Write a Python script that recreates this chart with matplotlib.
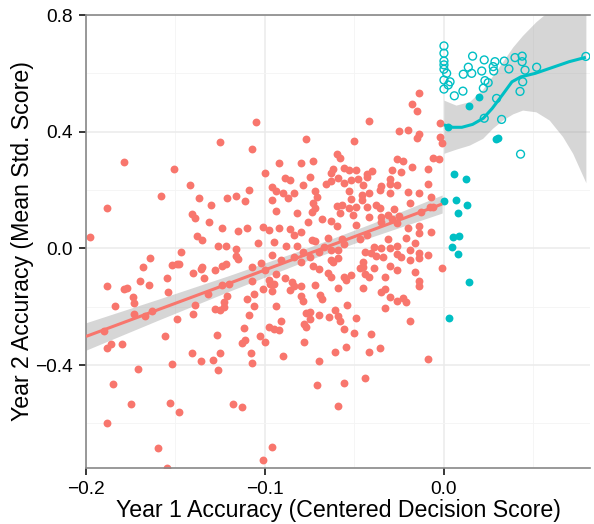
import numpy as np
import matplotlib
matplotlib.use('Agg')
import matplotlib.pyplot as plt
from matplotlib.ticker import MultipleLocator

# ── Data ────────────────────────────────────────────────────────────────────
# Below-threshold group (x < 0)
red_x = [
    -0.105, -0.125, -0.107, -0.179, -0.151, -0.100, -0.142, -0.109, -0.158, -0.137,
    -0.121, -0.116, -0.111, -0.188, -0.130, -0.141, -0.139, -0.131, -0.124, -0.115,
    -0.110, -0.101, -0.198, -0.138, -0.135, -0.104, -0.126, -0.122, -0.116, -0.116,
    -0.115, -0.147, -0.164, -0.168, -0.152, -0.149, -0.148, -0.135, -0.136, -0.128,
    -0.124, -0.122, -0.140, -0.134, -0.155, -0.170, -0.188, -0.165, -0.179, -0.177,
    -0.154, -0.174, -0.173, -0.184, -0.132, -0.124, -0.120, -0.121, -0.123, -0.139,
    -0.140, -0.128, -0.125, -0.123, -0.110, -0.106, -0.107, -0.106, -0.109, -0.107,
    -0.173, -0.167, -0.163, -0.149, -0.190, -0.112, -0.156, -0.127, -0.103, -0.111,
    -0.113, -0.186, -0.188, -0.180, -0.100, -0.141, -0.125, -0.108, -0.136, -0.129,
    -0.152, -0.107, -0.171, -0.126, -0.185, -0.175, -0.153, -0.148, -0.118, -0.113,
    -0.188, -0.160, -0.155, -0.101, -0.071, -0.056, -0.044, -0.059, -0.096, -0.014,
    -0.018, -0.015, -0.042, -0.002, -0.025, -0.020, -0.014, -0.015, -0.002, -0.001,
    -0.077, -0.050, -0.060, -0.058, -0.092, -0.080, -0.073, -0.026, -0.023, -0.018,
    -0.006, -0.003, -0.062, -0.063, -0.056, -0.053, -0.049, -0.040, -0.043, -0.029,
    -0.024, -0.009, -0.089, -0.086, -0.075, -0.059, -0.063, -0.066, -0.056, -0.052,
    -0.048, -0.043, -0.045, -0.030, -0.030, -0.026, -0.096, -0.094, -0.079, -0.090,
    -0.084, -0.087, -0.096, -0.072, -0.071, -0.053, -0.046, -0.042, -0.035, -0.036,
    -0.030, -0.020, -0.014, -0.009, -0.007, -0.019, -0.073, -0.052, -0.046, -0.072,
    -0.074, -0.094, -0.082, -0.060, -0.057, -0.053, -0.049, -0.043, -0.038, -0.036,
    -0.028, -0.058, -0.051, -0.042, -0.035, -0.031, -0.025, -0.013, -0.008, -0.006,
    -0.068, -0.063, -0.076, -0.092, -0.086, -0.060, -0.049, -0.035, -0.026, -0.014,
    -0.029, -0.098, -0.084, -0.080, -0.074, -0.072, -0.065, -0.057, -0.047, -0.043,
    -0.031, -0.021, -0.014, -0.007, -0.020, -0.095, -0.088, -0.082, -0.079, -0.070,
    -0.067, -0.063, -0.059, -0.056, -0.096, -0.091, -0.084, -0.080, -0.075, -0.063,
    -0.059, -0.062, -0.044, -0.041, -0.039, -0.035, -0.038, -0.030, -0.026, -0.034,
    -0.026, -0.024, -0.019, -0.019, -0.014, -0.014, -0.009, -0.016, -0.001, -0.102,
    -0.100, -0.094, -0.089, -0.085, -0.080, -0.073, -0.070, -0.065, -0.063, -0.056,
    -0.055, -0.052, -0.047, -0.045, -0.044, -0.042, -0.039, -0.045, -0.030, -0.026,
    -0.033, -0.016, -0.014, -0.014, -0.098, -0.097, -0.095, -0.101, -0.096, -0.086,
    -0.084, -0.072, -0.059, -0.045, -0.035, -0.033, -0.030, -0.026, -0.023, -0.021,
    -0.080, -0.079, -0.069, -0.068, -0.094, -0.054, -0.033, -0.077, -0.075, -0.070,
    -0.075, -0.064, -0.061, -0.059, -0.058, -0.049, -0.019, -0.091, -0.078, -0.077,
    -0.098, -0.095, -0.092, -0.056, -0.050, -0.041, -0.078, -0.061, -0.055, -0.042,
    -0.036, -0.090, -0.070, -0.009,
]
red_y = [
    0.434, 0.365, 0.341, 0.296, 0.272, 0.258, 0.217, 0.201, 0.179, 0.172,
    0.174, 0.179, 0.163, 0.139, 0.148, 0.118, 0.105, 0.090, 0.069, 0.059,
    0.069, 0.074, 0.039, 0.042, 0.028, 0.019, 0.008, 0.008, -0.002, -0.025,
    -0.037, -0.012, -0.032, -0.063, -0.057, -0.054, -0.054, -0.063, -0.071, -0.073,
    -0.062, -0.055, -0.086, -0.103, -0.101, -0.111, -0.128, -0.126, -0.139, -0.136,
    -0.150, -0.167, -0.188, -0.197, -0.158, -0.126, -0.123, -0.164, -0.185, -0.194,
    -0.224, -0.207, -0.213, -0.201, -0.173, -0.156, -0.111, -0.198, -0.228, -0.063,
    -0.224, -0.231, -0.215, -0.243, -0.284, -0.272, -0.300, -0.297, -0.300, -0.314,
    -0.326, -0.328, -0.342, -0.328, -0.321, -0.358, -0.358, -0.359, -0.386, -0.383,
    -0.396, -0.392, -0.414, -0.417, -0.465, -0.533, -0.529, -0.560, -0.533, -0.543,
    -0.598, -0.685, -0.752, -0.724, -0.469, -0.462, -0.444, -0.541, -0.681, 0.533,
    0.495, 0.471, 0.438, 0.431, 0.402, 0.407, 0.391, 0.379, 0.383, 0.362,
    0.375, 0.369, 0.324, 0.309, 0.294, 0.294, 0.300, 0.306, 0.300, 0.279,
    0.311, 0.306, 0.271, 0.259, 0.274, 0.270, 0.270, 0.265, 0.255, 0.270,
    0.263, 0.271, 0.242, 0.234, 0.245, 0.240, 0.230, 0.219, 0.224, 0.234,
    0.239, 0.243, 0.217, 0.239, 0.219, 0.217, 0.211, 0.197, 0.218, 0.191,
    0.191, 0.172, 0.166, 0.198, 0.175, 0.198, 0.183, 0.189, 0.214, 0.200,
    0.191, 0.194, 0.191, 0.219, 0.175, 0.156, 0.154, 0.168, 0.166, 0.138,
    0.126, 0.129, 0.122, 0.145, 0.148, 0.138, 0.143, 0.143, 0.147, 0.137,
    0.134, 0.122, 0.115, 0.106, 0.106, 0.115, 0.111, 0.126, 0.143, 0.141,
    0.099, 0.095, 0.091, 0.069, 0.065, 0.078, 0.081, 0.091, 0.086, 0.078,
    0.099, 0.063, 0.046, 0.055, 0.029, 0.025, 0.034, 0.032, 0.032, 0.046,
    0.032, 0.036, 0.051, 0.055, 0.069, 0.021, 0.009, 0.008, -0.014, -0.012,
    0.005, -0.006, -0.006, 0.014, -0.023, -0.040, -0.029, -0.046, -0.029, -0.040,
    -0.034, -0.048, -0.012, -0.017, 0.005, 0.000, -0.025, 0.000, 0.009, -0.029,
    -0.021, -0.029, -0.007, -0.040, -0.017, -0.034, -0.023, 0.017, -0.067, -0.051,
    -0.074, -0.089, -0.103, -0.117, -0.128, -0.060, -0.071, -0.086, -0.097, -0.097,
    -0.109, -0.092, -0.069, -0.063, -0.089, -0.097, -0.067, -0.046, -0.060, -0.074,
    -0.097, -0.080, -0.112, -0.128, -0.109, -0.123, -0.123, -0.140, -0.146, -0.143,
    -0.128, -0.126, -0.137, -0.135, -0.149, -0.140, -0.166, -0.181, -0.171, -0.185,
    -0.163, -0.181, -0.160, -0.174, -0.197, -0.194, -0.204, -0.223, -0.219, -0.229,
    -0.242, -0.235, -0.212, -0.231, -0.249, -0.238, -0.249, -0.249, -0.261, -0.269,
    -0.269, -0.277, -0.280, -0.277, -0.291, -0.295, -0.322, -0.355, -0.337, -0.355,
    -0.343, -0.368, -0.386, -0.380,
]

# Above-threshold group (x >= 0): filled and open markers
teal_fill_x = [0.0024, 0.0141, 0.0197, 0.0291, 0.0300, 0.0058, 0.0123, 0.0002, 0.0065,
               0.0127, 0.0077, 0.0052, 0.0085, 0.0043, 0.0080, 0.0138, 0.0028]
teal_fill_y = [0.415, 0.488, 0.518, 0.376, 0.379, 0.255, 0.238, 0.163, 0.166,
               0.148, 0.122, 0.038, 0.042, 0.003, -0.020, -0.116, -0.239]

teal_open_x = [0.0, 0.0, 0.0, 0.0, 0.0, 0.0015, 0.0, 0.0034, 0.0024, 0.0,
               0.0058, 0.0106, 0.0108, 0.0136, 0.0155, 0.0160, 0.0211, 0.0225, 0.0229, 0.0247,
               0.0220, 0.0275, 0.0285, 0.0278, 0.0337, 0.0363, 0.0294, 0.0225, 0.0322, 0.0397,
               0.0437, 0.0437, 0.0453, 0.0518, 0.0440, 0.0425, 0.0428, 0.0793]
teal_open_y = [0.694, 0.669, 0.642, 0.629, 0.614, 0.600, 0.577, 0.571, 0.560, 0.546,
               0.523, 0.539, 0.597, 0.621, 0.600, 0.659, 0.608, 0.646, 0.575, 0.568,
               0.549, 0.623, 0.640, 0.608, 0.642, 0.615, 0.514, 0.446, 0.442, 0.654,
               0.659, 0.640, 0.611, 0.621, 0.571, 0.538, 0.323, 0.658]

# Linear fit (below threshold) with 95% band
red_fit_x = [-0.200, -0.160, -0.120, -0.080, -0.040, -0.001]
red_fit_y = [-0.302, -0.211, -0.120, -0.028, 0.063, 0.152]
red_fit_lo = [-0.349, -0.247, -0.147, -0.050, 0.040, 0.121]
red_fit_hi = [-0.255, -0.175, -0.093, -0.007, 0.086, 0.183]

# Loess fit (above threshold)
teal_fit_x = [0.0, 0.005, 0.010, 0.016, 0.022, 0.027, 0.033, 0.038, 0.043,
              0.051, 0.061, 0.070, 0.0793]
teal_fit_y = [0.423, 0.415, 0.415, 0.425, 0.446, 0.480, 0.529, 0.571, 0.588,
              0.600, 0.621, 0.640, 0.655]
teal_band_x = [0.0, 0.0067, 0.0142, 0.0216, 0.0272, 0.0328, 0.0384, 0.0439,
               0.0514, 0.0588, 0.0663, 0.0719, 0.0793]
teal_band_lo = [0.326, 0.340, 0.354, 0.377, 0.412, 0.440, 0.461, 0.474,
                0.468, 0.440, 0.383, 0.326, 0.225]
teal_band_hi = [0.508, 0.491, 0.503, 0.545, 0.592, 0.640, 0.690, 0.730,
                0.777, 0.815, 0.860, 0.900, 0.950]

RED = '#F8766D'
TEAL = '#00BFC4'

# ── Figure ──────────────────────────────────────────────────────────────────
plt.rcParams['font.family'] = ['Liberation Sans', 'DejaVu Sans']

fig = plt.figure(figsize=(5.94, 5.24), dpi=100)
ax = fig.add_axes([86 / 594, 1 - 467.7 / 524, 504 / 594, 452.7 / 524])

ax.fill_between(red_fit_x, red_fit_lo, red_fit_hi, color='#999999', alpha=0.4, lw=0, zorder=1)
ax.fill_between(teal_band_x, teal_band_lo, teal_band_hi, color='#999999', alpha=0.4, lw=0, zorder=1)

ax.scatter(red_x, red_y, s=32, color=RED, lw=0, zorder=2)
ax.scatter(teal_fill_x, teal_fill_y, s=32, color=TEAL, lw=0, zorder=2)
ax.scatter(teal_open_x, teal_open_y, s=32, facecolors='none', edgecolors=TEAL,
           linewidths=1.0, zorder=2)

ax.plot(red_fit_x, red_fit_y, color=RED, lw=2.2, zorder=3, solid_capstyle='butt')
ax.plot(teal_fit_x, teal_fit_y, color=TEAL, lw=2.2, zorder=3,
        solid_capstyle='butt', solid_joinstyle='round')

ax.set_xlim(-0.2, 0.0816)
ax.set_ylim(-0.752, 0.8)

ax.xaxis.set_minor_locator(MultipleLocator(0.05))
ax.yaxis.set_minor_locator(MultipleLocator(0.2))
ax.set_xticks([-0.2, -0.1, 0.0])
ax.set_xticklabels(['\u22120.2', '\u22120.1', '0.0'])
ax.set_yticks([-0.4, 0.0, 0.4, 0.8])
ax.set_yticklabels(['\u22120.4', '0.0', '0.4', '0.8'])

ax.grid(True, which='major', color='#EBEBEB', lw=1.1, zorder=0)
ax.grid(True, which='minor', color='#F4F4F4', lw=0.6, zorder=0)
ax.set_axisbelow(True)

for side in ['left', 'bottom', 'top']:
    ax.spines[side].set_color('#888888')
    ax.spines[side].set_linewidth(1.2)
ax.spines['right'].set_visible(False)

ax.tick_params(which='major', direction='out', length=5, width=1.1,
               color='black', labelsize=13.8, labelcolor='black', pad=4.5)
ax.tick_params(which='minor', length=0)

ax.set_xlabel('Year 1 Accuracy (Centered Decision Score)', fontsize=16.7, labelpad=1)
ax.set_ylabel('Year 2 Accuracy (Mean Std. Score)', fontsize=16.7, labelpad=1)

fig.savefig('out.png', dpi=100, facecolor='white')
